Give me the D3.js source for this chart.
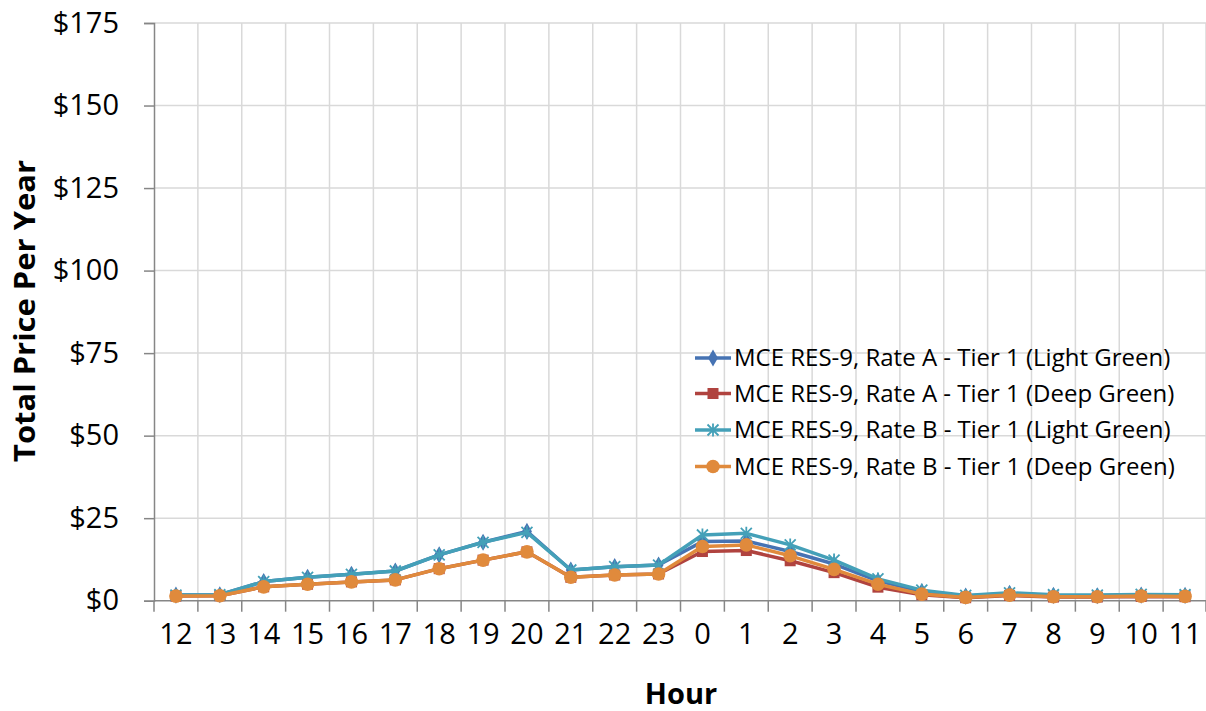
<!DOCTYPE html>
<html><head><meta charset="utf-8">
<script src="https://cdn.jsdelivr.net/npm/d3@7"></script>
<style>body{margin:0;background:#fff}svg{display:block}text{font-family:"Open Sans",sans-serif}</style>
</head><body><svg id="c" width="1206" height="711"></svg>
<script>
const hours = ["12","13","14","15","16","17","18","19","20","21","22","23","0","1","2","3","4","5","6","7","8","9","10","11"];
const yTicks = [0,25,50,75,100,125,150,175];
const seriesNames = [
  "MCE RES-9, Rate A - Tier 1 (Light Green)",
  "MCE RES-9, Rate A - Tier 1 (Deep Green)",
  "MCE RES-9, Rate B - Tier 1 (Light Green)",
  "MCE RES-9, Rate B - Tier 1 (Deep Green)"
];
const rateALight = [1.7,1.8,5.8,7.1,8.0,9.0,13.9,17.7,21.0,9.3,10.3,10.8,17.9,18.1,14.9,11.1,6.0,2.8,1.4,2.2,1.6,1.5,1.7,1.6];
const rateADeep  = [1.4,1.5,4.2,5.0,5.7,6.3,9.7,12.3,14.8,7.1,7.8,8.1,14.9,15.2,12.1,8.5,4.1,1.8,0.9,1.6,1.1,1.1,1.3,1.2];
const rateBLight = [1.7,1.8,5.8,7.1,8.0,9.0,13.9,17.7,20.7,9.3,10.3,10.8,19.9,20.4,16.9,12.3,6.6,3.2,1.6,2.4,1.8,1.7,1.9,1.8];
const rateBDeep  = [1.4,1.5,4.2,5.0,5.7,6.3,9.7,12.3,14.8,7.1,7.8,8.1,16.4,16.9,13.6,9.5,5.0,2.0,1.0,1.7,1.2,1.2,1.4,1.3];
const colors = ["#4673B3","#B0433F","#44A0B8","#E08A3C"];
const markers = ["diamond","square","star","circle"];
const allSeries = [rateALight, rateADeep, rateBLight, rateBDeep];

const svg = d3.select("#c");
const L = 154, R = 1207, T = 23, B = 600.7;
const x = d3.scaleBand().domain(hours).range([L, R]).padding(0);
const y = d3.scaleLinear().domain([0,175]).range([B, T]);

// gridlines
const g = svg.append("g");
g.selectAll(".hg").data(yTicks.filter(d=>d>0)).enter().append("line")
  .attr("x1", L).attr("x2", R).attr("y1", d=>y(d)).attr("y2", d=>y(d))
  .attr("stroke", "#D9D9D9").attr("stroke-width", 1.5);
const bounds = hours.slice(1).map(h=>x(h)).concat([R-1]);
g.selectAll(".vg").data(bounds).enter().append("line")
  .attr("x1", d=>d).attr("x2", d=>d).attr("y1", T).attr("y2", B)
  .attr("stroke", "#D9D9D9").attr("stroke-width", 1.5);

// axes
const axisColor = "#868686";
const yAxis = svg.append("g").attr("transform", `translate(${L},0)`)
  .call(d3.axisLeft(y).tickValues(yTicks).tickSize(10).tickPadding(25).tickFormat(d=>"$"+d));
yAxis.select(".domain").attr("stroke", axisColor).attr("stroke-width", 1.5);
yAxis.selectAll(".tick line").attr("stroke", axisColor).attr("stroke-width", 1.5);
yAxis.selectAll(".tick text").attr("font-size", 29).attr("fill", "#000")
  .attr("font-family", '"Open Sans",sans-serif');

const xAxis = svg.append("g").attr("transform", `translate(0,${B})`)
  .call(d3.axisBottom(x).tickSize(0).tickPadding(23));
xAxis.select(".domain").remove();
xAxis.selectAll(".tick text").attr("font-size", 29).attr("fill", "#000")
  .attr("font-family", '"Open Sans",sans-serif');
svg.append("line").attr("x1", L).attr("x2", R).attr("y1", B).attr("y2", B)
  .attr("stroke", axisColor).attr("stroke-width", 1.5);
svg.selectAll(".xt").data([L].concat(bounds)).enter().append("line")
  .attr("x1", d=>d).attr("x2", d=>d).attr("y1", B).attr("y2", B+11)
  .attr("stroke", axisColor).attr("stroke-width", 1.5);

// axis titles
svg.append("text").attr("x", 681).attr("y", 704).attr("text-anchor", "middle")
  .attr("font-size", 29).attr("font-weight", "bold").text("Hour");
svg.append("text").attr("transform", "translate(35,311) rotate(-90)").attr("text-anchor", "middle")
  .attr("font-size", 29).attr("font-weight", "bold")
  .attr("textLength", 302).attr("lengthAdjust", "spacingAndGlyphs").text("Total Price Per Year");

// marker drawer
function drawMarker(sel, type, color, cx, cy) {
  if (type === "diamond") {
    sel.append("path").attr("d", d3.symbol().type(d3.symbolDiamond).size(85)())
      .attr("transform", `translate(${cx},${cy})`).attr("fill", color);
  } else if (type === "square") {
    sel.append("rect").attr("x", cx-5.5).attr("y", cy-5.5).attr("width", 11).attr("height", 11).attr("fill", color);
  } else if (type === "circle") {
    sel.append("circle").attr("cx", cx).attr("cy", cy).attr("r", 6.8).attr("fill", color);
  } else if (type === "star") {
    const s = 5.5;
    sel.append("path").attr("d", `M${cx-s},${cy-s}L${cx+s},${cy+s}M${cx-s},${cy+s}L${cx+s},${cy-s}M${cx},${cy-s-1}L${cx},${cy+s+1}`)
      .attr("stroke", color).attr("stroke-width", 1.8).attr("fill", "none");
  }
}

const line = d3.line().x((d,i)=>x(hours[i]) + x.bandwidth()/2).y(d=>y(d));
allSeries.forEach((vals, si) => {
  const sg = svg.append("g");
  sg.append("path").datum(vals).attr("d", line).attr("fill", "none")
    .attr("stroke", colors[si]).attr("stroke-width", 3.5).attr("stroke-linejoin", "round");
  vals.forEach((v,i) => drawMarker(sg, markers[si], colors[si], x(hours[i]) + x.bandwidth()/2, y(v)));
});

// legend
const legY = [358, 393.5, 430, 466.5];
seriesNames.forEach((name, si) => {
  const lg = svg.append("g");
  const ly = legY[si];
  lg.append("line").attr("x1", 695).attr("x2", 731).attr("y1", ly).attr("y2", ly)
    .attr("stroke", colors[si]).attr("stroke-width", 3.5);
  drawMarker(lg, markers[si], colors[si], 713, ly);
  lg.append("text").attr("x", 734).attr("y", ly).attr("dy", "0.35em")
    .attr("font-size", 24).attr("fill", "#000").text(name);
});
</script></body></html>
